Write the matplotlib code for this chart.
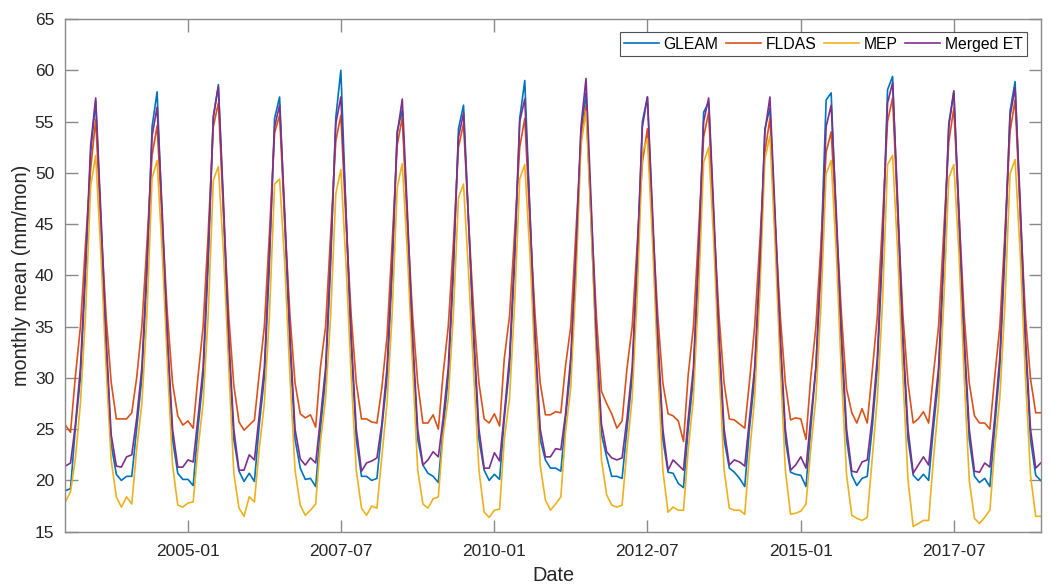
import matplotlib
matplotlib.use("Agg")
import matplotlib.pyplot as plt
import matplotlib.dates as mdates
import numpy as np
import pandas as pd

dates = pd.date_range("2003-01-01", "2018-12-01", freq="MS")

gleam = [
    19.0, 19.2, 25, 30, 40, 52.0, 57.0, 45, 33, 23.5, 20.6, 20.0,
    20.4, 20.4, 25, 30, 40, 54.5, 57.9, 45, 33, 24, 20.7, 20.1,
    20.1, 19.5, 25, 30, 41, 55.4, 58.6, 46, 33, 24, 20.9, 19.9,
    20.7, 19.9, 25.3, 30, 41, 55.3, 57.4, 45, 33, 24, 21.2, 20.1,
    20.2, 19.4, 25, 30, 41, 55.4, 60.0, 46, 33, 24, 20.4, 20.4,
    20.0, 20.2, 25, 30, 40, 54.1, 56.1, 45, 33, 24, 21.5, 20.7,
    20.4, 19.8, 25, 30, 40, 54.3, 56.6, 45, 33, 24, 21.0, 20.0,
    20.6, 20.1, 26, 31, 41, 55.3, 59.0, 46, 33, 24, 22.0, 21.2,
    21.2, 20.9, 26, 31, 41, 54.0, 57.8, 45, 33, 24.5, 22.3, 20.4,
    20.4, 20.2, 25, 30, 41, 55.0, 57.4, 45, 33, 24, 20.8, 20.7,
    19.7, 19.3, 25, 30, 41, 55.9, 56.9, 45, 33, 24, 21.2, 20.8,
    20.2, 19.4, 25, 30, 40, 54.3, 56.3, 45, 33, 24, 20.8, 20.6,
    20.5, 19.4, 25, 31, 42, 57.1, 57.8, 45, 33, 24, 20.5, 19.5,
    20.2, 20.4, 25, 31, 42, 58.1, 59.4, 46, 33, 24, 20.5, 20.0,
    20.6, 20.0, 25, 30, 41, 54.8, 57.9, 45, 33, 24, 20.4, 19.8,
    20.2, 19.4, 25, 31, 42, 56.0, 58.9, 46, 33, 24, 20.5, 20.0,
]

fldas = [
    25.4, 24.7, 30, 35, 43, 50.4, 55.2, 45, 36, 29.6, 26.0, 26.0,
    26.0, 26.6, 30, 35, 43, 51.7, 54.6, 45, 36, 29.5, 26.3, 25.4,
    25.8, 25.1, 30, 35, 44, 54.5, 56.8, 46, 36, 29.3, 25.7, 24.9,
    25.4, 25.9, 30.3, 35, 44, 53.9, 55.6, 45, 36, 29.5, 26.5, 26.1,
    26.4, 25.2, 31, 35, 44, 53.1, 55.6, 45, 36, 29.5, 26.0, 26.0,
    25.7, 25.6, 29, 34, 43, 52.7, 55.4, 45, 36, 29.5, 25.6, 25.6,
    26.4, 25.0, 30.3, 35, 43, 52.5, 54.8, 45, 36, 29.5, 26.0, 25.6,
    26.5, 25.3, 31.9, 36, 44, 52.5, 55.3, 45, 36, 29.5, 26.4, 26.4,
    26.7, 26.6, 31.2, 35, 44, 53.0, 56.6, 46, 36, 28.7, 27.5, 26.5,
    25.1, 25.8, 30.9, 35, 43, 51.0, 54.3, 45, 36, 29.5, 26.5, 26.3,
    25.8, 23.8, 30.3, 35, 44, 53.5, 55.9, 45, 36, 29.5, 26.0, 25.9,
    25.5, 25.1, 29.6, 35, 43, 52.0, 55.3, 45, 36, 29.5, 25.9, 26.1,
    26.0, 24.0, 30, 35, 43, 52.0, 54.0, 45, 36, 28.9, 26.6, 25.6,
    27.0, 25.6, 30.5, 36, 45, 55.0, 57.3, 46, 36, 29.5, 25.6, 26.0,
    26.7, 25.6, 30.3, 35, 44, 53.0, 56.3, 46, 36, 29.5, 26.3, 25.6,
    25.6, 25.0, 30, 35, 44, 54.0, 57.1, 46, 36, 29.9, 26.6, 26.6,
]

mep = [
    17.9, 18.9, 22, 27.5, 36, 48.7, 51.7, 42, 31, 22, 18.4, 17.4,
    18.4, 17.7, 23, 27.5, 36, 49.5, 51.2, 42, 31, 21.5, 17.6, 17.4,
    17.8, 17.9, 23, 27.5, 36, 49.3, 50.6, 42, 31, 20.7, 17.3, 16.5,
    18.4, 17.9, 23, 27.5, 36, 48.9, 49.4, 41, 30, 21, 17.6, 16.6,
    17.1, 17.7, 23.7, 28, 36, 48.0, 50.3, 41, 30, 21, 17.3, 16.6,
    17.5, 17.3, 22.3, 27.5, 36, 48.6, 50.9, 42, 31, 21, 17.7, 17.3,
    18.2, 18.4, 24.3, 28, 36, 47.6, 48.9, 40, 30, 21, 16.9, 16.4,
    17.1, 17.2, 24, 28, 37, 49.4, 50.8, 42, 31, 21.5, 18.1, 17.1,
    17.7, 18.4, 24.7, 29, 39, 52.7, 56.0, 45, 32, 22, 18.6, 17.6,
    17.4, 17.6, 23, 28, 38, 52.0, 53.3, 43, 31, 21, 16.9, 17.4,
    17.1, 17.1, 23, 28, 38, 51.0, 52.5, 43, 31, 21, 17.3, 17.1,
    17.1, 16.7, 22.5, 28, 38, 51.3, 53.6, 43, 31, 21, 16.7, 16.8,
    17.0, 17.7, 23, 28, 37, 49.9, 51.2, 42, 30, 20.5, 16.6, 16.3,
    16.1, 16.4, 22, 28, 37, 50.8, 51.7, 42, 30, 20, 15.5, 15.8,
    16.1, 16.1, 22, 27.5, 37, 49.5, 50.8, 42, 30, 20, 16.3, 15.8,
    16.4, 17.1, 23, 28, 37, 49.9, 51.3, 42, 30, 20.5, 16.5, 16.5,
]

merged = [
    21.4, 21.7, 25.3, 31, 41, 52.7, 57.3, 46, 34, 24.5, 21.4, 21.3,
    22.3, 22.5, 26, 31, 41, 53.6, 56.4, 46, 34, 25, 21.3, 21.3,
    22.0, 21.8, 26, 31, 42, 55.5, 58.4, 47, 34, 25, 21.0, 21.0,
    22.5, 22.0, 26.3, 31, 42, 54.5, 56.6, 46, 34, 25, 22.1, 21.5,
    22.2, 21.7, 26, 31, 42, 54.8, 57.4, 46, 34, 25, 20.9, 21.7,
    21.9, 22.2, 25.5, 31, 41, 53.8, 57.2, 46, 34, 25, 21.5, 22.0,
    22.8, 22.3, 26, 31, 41, 53.5, 55.8, 45, 34, 25, 21.2, 21.2,
    22.7, 21.9, 26.5, 32, 42, 55.0, 57.2, 46, 34, 25, 22.3, 22.3,
    23.1, 23.0, 26.5, 32, 42, 54.5, 59.2, 47, 34, 25.5, 22.8, 22.2,
    22.0, 22.2, 26, 31, 42, 54.5, 57.4, 46, 34, 25, 21.0, 22.0,
    21.5, 21.0, 26, 31, 42, 55.0, 57.3, 46, 34, 25, 21.5, 22.0,
    21.8, 21.4, 26, 31, 41, 54.0, 57.4, 46, 34, 25, 21.0, 21.5,
    22.3, 21.2, 26, 31, 41, 54.5, 56.6, 46, 34, 25, 20.9, 20.8,
    21.8, 22.0, 26, 32, 43, 56.8, 58.8, 47, 34, 25, 20.7, 21.5,
    22.3, 21.5, 26, 31, 42, 54.5, 58.0, 46, 34, 25, 20.9, 20.8,
    21.7, 21.3, 26, 32, 43, 55.5, 58.3, 47, 34, 25, 21.2, 21.7,
]

series_names = ["GLEAM", "FLDAS", "MEP", "Merged ET"]
colors = ["#0072BD", "#D95319", "#EDB120", "#7E2F8E"]
tick_dates = ["2005-01-01", "2007-07-01", "2010-01-01", "2012-07-01", "2015-01-01", "2017-07-01"]

plt.rcParams["font.family"] = ["Liberation Sans", "DejaVu Sans"]

fig = plt.figure(figsize=(10.52, 5.85), dpi=100)
ax = fig.add_axes([0.0621, 0.0911, 0.9272, 0.8764])

for name, vals, c in zip(series_names, [gleam, fldas, mep, merged], colors):
    ax.plot(dates, vals, color=c, lw=1.2, label=name)

ax.set_xlim(dates[0], dates[-1])
ax.set_ylim(15, 65)
ax.set_yticks(np.arange(15, 66, 5))
ax.set_xticks(pd.to_datetime(tick_dates))
ax.xaxis.set_major_formatter(mdates.DateFormatter("%Y-%m"))

axis_col = "#8a8a8a"
for s in ax.spines.values():
    s.set_color(axis_col)
    s.set_linewidth(1.0)
ax.tick_params(axis="both", direction="in", length=9, width=1.0, color=axis_col,
               labelsize=12.5, labelcolor="#262626", top=True, right=True)
ax.tick_params(axis="x", pad=9)
ax.tick_params(axis="y", pad=8)

ax.set_xlabel("Date", fontsize=14.3, color="#262626", labelpad=5)
ax.set_ylabel("monthly mean (mm/mon)", fontsize=14.3, color="#262626", labelpad=3)

leg = ax.legend(loc="upper right", ncol=4, fontsize=11.3, frameon=True, fancybox=False,
                edgecolor="#262626", handlelength=2.2, handletextpad=0.3, columnspacing=0.5,
                borderpad=0.3, borderaxespad=0, bbox_to_anchor=(0.986, 0.975))
leg.get_frame().set_linewidth(0.8)

fig.savefig("out.png", dpi=100)
